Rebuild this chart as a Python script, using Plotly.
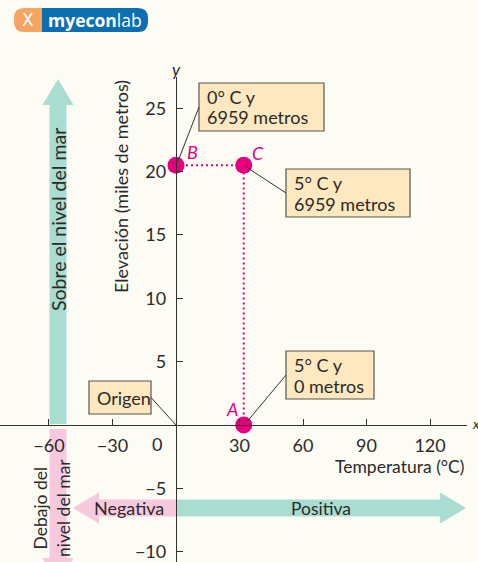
import plotly.graph_objects as go

# ---------------- data ----------------
point_labels = ["A", "B", "C"]
temperatura = [32, 0, 32]          # x position
elevacion = [0, 20.5, 20.5]        # y position
callout_lines = [["5° C y", "0 metros"], ["0° C y", "6959 metros"], ["5° C y", "6959 metros"]]
x_ticks = [-60, -30, 30, 60, 90, 120]
y_ticks = [-10, -5, 5, 10, 15, 20, 25]

# ---------------- geometry helpers (pixel <-> data / paper) ----------------
W, H = 478, 562
X0PIX, XS = 176.0, 2.117      # pixel of x=0, px per unit
Y0PIX, YS = 425.0, 12.67      # pixel of y=0, px per unit
X_RIGHT_PIX = 467.0
Y_TOP_PIX = 77.0


def dx(p):
    return (p - X0PIX) / XS


def dy(p):
    return (Y0PIX - p) / YS


def pxx(v):
    return X0PIX + v * XS


def pxy(v):
    return Y0PIX - v * YS


def PX(p):
    return p / W


def PY(p):
    return 1 - p / H


FONT = "Lato"
INK = "#2b2a29"
MAG = "#e6007e"
GREEN = "#a9ddd1"
PINK = "#f8c9dd"
BOXFILL = "#fde8bf"
BOXLINE = "#5a5550"
BG = "#fcfcf5"

fig = go.Figure()

# dotted guide lines B -> C -> A
order = [1, 2, 0]
fig.add_trace(go.Scatter(
    x=[temperatura[i] for i in order], y=[elevacion[i] for i in order],
    mode="lines", line=dict(color=MAG, width=2, dash="2px,3px"),
    hoverinfo="skip", showlegend=False, cliponaxis=False))

# points
fig.add_trace(go.Scatter(
    x=temperatura, y=elevacion, mode="markers",
    marker=dict(color=MAG, size=17, line=dict(width=0)),
    showlegend=False, cliponaxis=False))

shapes = []
annotations = []


def path_paper(points):
    s = ""
    for i, (cmd, pts) in enumerate(points):
        s += cmd + " " + " ".join(f"{PX(a):.5f},{PY(b):.5f}" for a, b in pts) + " "
    return s + "Z"


def harrow(x_tail, x_tip, yc, half_shaft, half_head, head_len, color):
    d = 1 if x_tip > x_tail else -1
    xb = x_tip - d * head_len
    pts = [("M", [(x_tail, yc - half_shaft)]), ("L", [(xb, yc - half_shaft)]),
           ("L", [(xb, yc - half_head)]), ("L", [(x_tip, yc)]),
           ("L", [(xb, yc + half_head)]), ("L", [(xb, yc + half_shaft)]),
           ("L", [(x_tail, yc + half_shaft)])]
    shapes.append(dict(type="path", xref="paper", yref="paper", path=path_paper(pts),
                       fillcolor=color, line=dict(width=0), layer="below"))


def varrow(y_tail, y_tip, xc, half_shaft, half_head, head_len, color):
    d = 1 if y_tip > y_tail else -1
    yb = y_tip - d * head_len
    pts = [("M", [(xc - half_shaft, y_tail)]), ("L", [(xc - half_shaft, yb)]),
           ("L", [(xc - half_head, yb)]), ("L", [(xc, y_tip)]),
           ("L", [(xc + half_head, yb)]), ("L", [(xc + half_shaft, yb)]),
           ("L", [(xc + half_shaft, y_tail)])]
    shapes.append(dict(type="path", xref="paper", yref="paper", path=path_paper(pts),
                       fillcolor=color, line=dict(width=0), layer="below"))


# vertical arrows (above / below sea level)
varrow(pxy(0) - 1, 79, 58, 8.5, 15.5, 26, GREEN)
varrow(pxy(0) + 4, 590, 58, 8.5, 15.5, 32, PINK)
# horizontal arrows (negative / positive)
harrow(pxx(0), 73, 508, 8.5, 15.5, 26, PINK)
harrow(pxx(0), 466, 508, 8.5, 15.5, 26, GREEN)


def txt(x, y, text, size=16, color=INK, angle=0, xanchor="center", yanchor="middle",
        italic=False, align="center", family=FONT):
    annotations.append(dict(
        xref="paper", yref="paper", x=PX(x), y=PY(y), text=text, showarrow=False,
        textangle=angle, xanchor=xanchor, yanchor=yanchor, align=align,
        font=dict(family=family, size=size, color=color,
                  style="italic" if italic else "normal")))


txt(58, 220, "Sobre el nivel del mar", 19.5, angle=-90)
txt(52, 508, "Debajo del<br>nivel del mar", 17.5, angle=-90)
txt(129, 508, "Negativa", 18)
txt(321, 508, "Positiva", 17.5)

# axis titles & axis letters
txt(121, 187, "Elevación (miles de metros)", 18, angle=-90)
txt(399, 466, "Temperatura (°C)", 17.5)
txt(176, 69, "y", 17, italic=True)
txt(470, 423, "x", 14, italic=True, xanchor="left")
txt(157, 444, "0", 18)

# point letters
lab_off = {"A": (-12, -16), "B": (16, -13), "C": (14, -12)}
for name, xv, yv in zip(point_labels, temperatura, elevacion):
    ox, oy = lab_off[name]
    txt(pxx(xv) + ox, pxy(yv) + oy, name, 18, color=MAG, italic=True)


# callout boxes
def callout(px_pt, py_pt, bx0, by0, bx1, by1, lines, side="left"):
    shapes.append(dict(type="rect", xref="paper", yref="paper",
                       x0=PX(bx0), x1=PX(bx1), y0=PY(by0), y1=PY(by1),
                       fillcolor=BOXFILL, line=dict(color=BOXLINE, width=1.2)))
    ex = bx0 if side == "left" else bx1
    ey = (by0 + by1) / 2
    shapes.append(dict(type="line", xref="paper", yref="paper",
                       x0=PX(px_pt), y0=PY(py_pt), x1=PX(ex), y1=PY(ey),
                       line=dict(color="#333333", width=1)))
    n = len(lines)
    lh = 21
    top = ey - (n - 1) * lh / 2
    for k, line in enumerate(lines):
        txt(bx0 + 6, top + k * lh, line, 18, xanchor="left")


pA = (pxx(temperatura[0]), pxy(elevacion[0]))
pB = (pxx(temperatura[1]), pxy(elevacion[1]))
pC = (pxx(temperatura[2]), pxy(elevacion[2]))
callout(pB[0] + 2, pB[1] - 4, 199, 83, 324, 131, callout_lines[1])
callout(pC[0] + 3, pC[1] + 2, 286, 169, 410, 217, callout_lines[2])
callout(pA[0] + 3, pA[1] - 3, 286, 351, 374, 399, callout_lines[0])
callout(pxx(0), pxy(0), 89, 381, 151, 414, ["Origen"], side="right")


# logo
def rrect(x0, y0, x1, y1, rl, rr):
    pts = [("M", [(x0 + rl, y0)]), ("L", [(x1 - rr, y0)]),
           ("Q", [(x1, y0), (x1, y0 + rr)]), ("L", [(x1, y1 - rr)]),
           ("Q", [(x1, y1), (x1 - rr, y1)]), ("L", [(x0 + rl, y1)]),
           ("Q", [(x0, y1), (x0, y1 - rl)]), ("L", [(x0, y0 + rl)]),
           ("Q", [(x0, y0), (x0 + rl, y0)])]
    return path_paper(pts)


shapes.append(dict(type="path", xref="paper", yref="paper", path=rrect(14, 8, 43, 32, 10, 0.01),
                   fillcolor="#f6a560", line=dict(width=0)))
shapes.append(dict(type="path", xref="paper", yref="paper", path=rrect(42, 8, 148, 32, 0.01, 10),
                   fillcolor="#0b6fb2", line=dict(width=0)))
txt(28, 20, "X", 17, color="white", family="DejaVu Sans")
txt(95, 20, "<b>myecon</b>lab", 17.5, color="white", family="Open Sans")

axis_common = dict(showline=True, linecolor="#333333", linewidth=1.3, ticks="inside",
                   ticklen=6, tickcolor="#333333", tickwidth=1.2, showgrid=False,
                   zeroline=False, anchor="free",
                   tickfont=dict(family=FONT, size=18, color=INK))

fig.update_layout(
    width=W, height=H, margin=dict(l=0, r=0, t=0, b=0),
    paper_bgcolor=BG, plot_bgcolor="rgba(0,0,0,0)",
    xaxis=dict(range=[dx(0), dx(X_RIGHT_PIX)], domain=[0, X_RIGHT_PIX / W],
               position=(H - Y0PIX) / H, tickvals=x_ticks, ticklabelstandoff=4,
               **axis_common),
    yaxis=dict(range=[dy(H), dy(Y_TOP_PIX)], domain=[0, (H - Y_TOP_PIX) / H],
               position=X0PIX / W, tickvals=y_ticks, ticklabelstandoff=6,
               **axis_common),
    shapes=shapes, annotations=annotations, showlegend=False,
)

fig.write_html("out.html", config={"displayModeBar": False},
               post_script="document.body.style.margin='0';document.body.style.overflow='hidden';")
